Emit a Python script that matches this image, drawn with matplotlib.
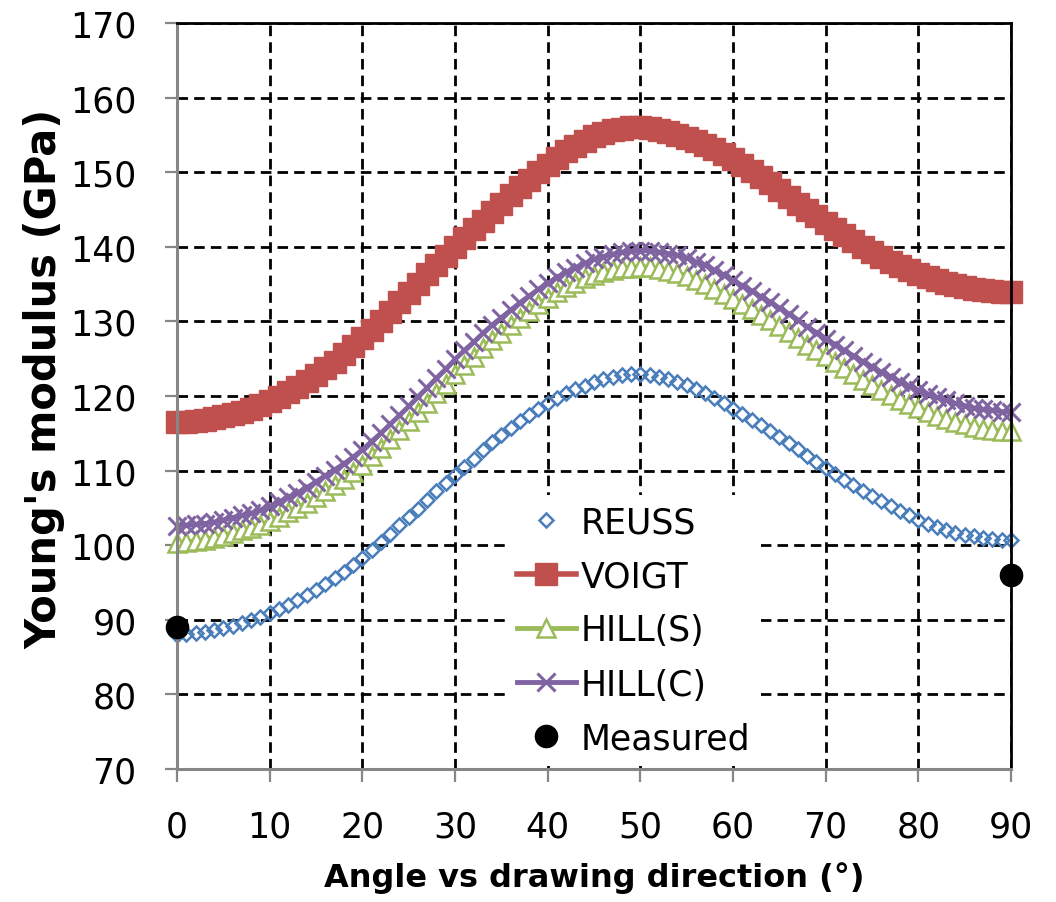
import matplotlib
matplotlib.use("Agg")
import matplotlib.pyplot as plt

plt.rcParams['font.family'] = ['DejaVu Sans']

# angle vs drawing direction, one point per degree
angle = list(range(0, 91))

reuss = [88.0, 88.1, 88.2, 88.4, 88.6, 88.9, 89.2, 89.6, 90.0, 90.4,
         90.9, 91.4, 92.0, 92.6, 93.3, 94.0, 94.8, 95.6, 96.4, 97.3,
         98.3, 99.3, 100.4, 101.5, 102.7, 103.8, 104.9, 106.0, 107.2, 108.3,
         109.4, 110.5, 111.6, 112.7, 113.8, 114.8, 115.7, 116.6, 117.5, 118.3,
         119.0, 119.7, 120.4, 120.9, 121.4, 121.9, 122.3, 122.6, 122.8, 122.9,
         122.9, 122.8, 122.6, 122.3, 121.9, 121.5, 121.0, 120.4, 119.7, 119.0,
         118.3, 117.6, 116.8, 116.1, 115.3, 114.5, 113.7, 112.9, 112.0, 111.2,
         110.4, 109.6, 108.8, 108.1, 107.3, 106.6, 105.9, 105.2, 104.6, 104.0,
         103.4, 102.9, 102.5, 102.1, 101.7, 101.4, 101.2, 101.0, 100.8, 100.7,
         100.7]

voigt = [116.5, 116.5, 116.6, 116.8, 117.0, 117.3, 117.6, 117.9, 118.3, 118.8,
         119.3, 119.9, 120.5, 121.2, 122.0, 122.8, 123.7, 124.6, 125.6, 126.7,
         127.8, 128.9, 130.1, 131.3, 132.6, 133.8, 135.0, 136.3, 137.5, 138.8,
         140.0, 141.2, 142.4, 143.5, 144.7, 145.8, 146.9, 148.0, 149.0, 150.0,
         151.0, 151.9, 152.8, 153.5, 154.2, 154.8, 155.3, 155.6, 155.8, 156.0,
         156.0, 155.9, 155.7, 155.4, 155.0, 154.6, 154.2, 153.7, 153.1, 152.5,
         151.8, 151.0, 150.2, 149.4, 148.5, 147.6, 146.7, 145.8, 144.9, 144.1,
         143.2, 142.4, 141.6, 140.8, 140.0, 139.3, 138.6, 138.0, 137.4, 136.9,
         136.4, 136.0, 135.5, 135.2, 134.9, 134.6, 134.4, 134.2, 134.1, 134.0,
         134.0]

hill_s = [100.3, 100.4, 100.6, 100.7, 101.0, 101.3, 101.6, 102.0, 102.3, 102.7,
          103.2, 103.8, 104.4, 105.0, 105.7, 106.5, 107.3, 108.1, 108.9, 109.8,
          110.8, 111.9, 113.0, 114.2, 115.4, 116.6, 117.9, 119.1, 120.4, 121.6,
          122.9, 124.1, 125.2, 126.4, 127.5, 128.5, 129.5, 130.5, 131.4, 132.3,
          133.1, 133.9, 134.6, 135.2, 135.8, 136.2, 136.6, 136.9, 137.1, 137.2,
          137.3, 137.3, 137.0, 136.8, 136.5, 136.1, 135.6, 135.0, 134.4, 133.7,
          133.0, 132.3, 131.6, 130.9, 130.2, 129.4, 128.6, 127.8, 126.9, 126.1,
          125.3, 124.5, 123.7, 123.0, 122.2, 121.5, 120.8, 120.2, 119.5, 118.9,
          118.4, 117.9, 117.3, 116.9, 116.5, 116.2, 115.9, 115.6, 115.5, 115.3,
          115.3]

hill_c = [102.6, 102.7, 102.8, 102.9, 103.1, 103.4, 103.7, 104.0, 104.3, 104.7,
          105.2, 105.8, 106.4, 107.0, 107.7, 108.5, 109.3, 110.1, 110.9, 111.8,
          112.8, 113.9, 115.0, 116.2, 117.4, 118.6, 119.9, 121.1, 122.4, 123.6,
          124.9, 126.1, 127.2, 128.4, 129.5, 130.5, 131.5, 132.5, 133.4, 134.3,
          135.1, 135.9, 136.6, 137.2, 137.8, 138.3, 138.7, 139.0, 139.3, 139.4,
          139.5, 139.5, 139.3, 139.1, 138.9, 138.5, 138.0, 137.5, 136.9, 136.2,
          135.5, 134.8, 134.1, 133.3, 132.6, 131.8, 131.0, 130.2, 129.3, 128.5,
          127.7, 126.9, 126.1, 125.4, 124.6, 123.9, 123.2, 122.6, 121.9, 121.3,
          120.8, 120.3, 119.8, 119.4, 119.0, 118.7, 118.4, 118.2, 118.1, 117.9,
          117.9]

measured_angle = [0, 90]
measured = [89, 96]

x_ticks = list(range(0, 91, 10))
y_ticks = list(range(70, 171, 10))

fig = plt.figure(figsize=(10.56, 9.03), dpi=100)
ax = fig.add_axes([0.1676, 0.1473, 0.7898, 0.8261])

ax.plot(angle, reuss, ls='none', marker='D', ms=7, mfc='none',
        mec='#4A7EBB', mew=1.8, label='REUSS', clip_on=False)
ax.plot(angle, voigt, color='#C0504D', lw=4, marker='s', ms=15.5,
        mec='#C0504D', label='VOIGT', clip_on=False)
ax.plot(angle, hill_s, color='#9BBB59', lw=3.5, marker='^', ms=12.5,
        mfc='white', mec='#9BBB59', mew=1.8, label='HILL(S)', clip_on=False)
ax.plot(angle, hill_c, color='#8064A2', lw=3.5, marker='x', ms=12.5,
        mew=2.2, label='HILL(C)', clip_on=False)
ax.plot(measured_angle, measured, ls='none', marker='o', ms=16,
        color='black', label='Measured', clip_on=False, zorder=5)

ax.set_xlim(0, 90)
ax.set_ylim(70, 170)
ax.set_xticks(x_ticks)
ax.set_yticks(y_ticks)

# dashed black grid
ax.grid(True, color='black', ls=(0, (3.8, 2.2)), lw=2.0)
ax.set_axisbelow(True)

for s in ['left', 'bottom']:
    ax.spines[s].set_color('#868686')
    ax.spines[s].set_linewidth(2.2)
for s in ['top', 'right']:
    ax.spines[s].set_color('black')
    ax.spines[s].set_linewidth(2.0)

ax.tick_params(direction='out', length=9, width=1.6, color='#868686',
               pad=20, labelsize=25)

ax.set_xlabel('Angle vs drawing direction (°)', fontsize=23, fontweight='bold')
ax.set_ylabel("Young's modulus (GPa)", fontsize=30, fontweight='bold')
ax.xaxis.set_label_coords(0.5, -0.123)
ax.yaxis.set_label_coords(-0.134, 0.524)

leg = ax.legend(loc='upper left', bbox_to_anchor=(0.374, 0.391),
                fontsize=25, handlelength=1.7, handletextpad=0.15,
                labelspacing=0.58, borderpad=0.3, numpoints=1,
                frameon=True, fancybox=False)
leg.get_frame().set_facecolor('white')
leg.get_frame().set_edgecolor('none')
leg.get_frame().set_alpha(1)

fig.savefig('out.png', dpi=100)
